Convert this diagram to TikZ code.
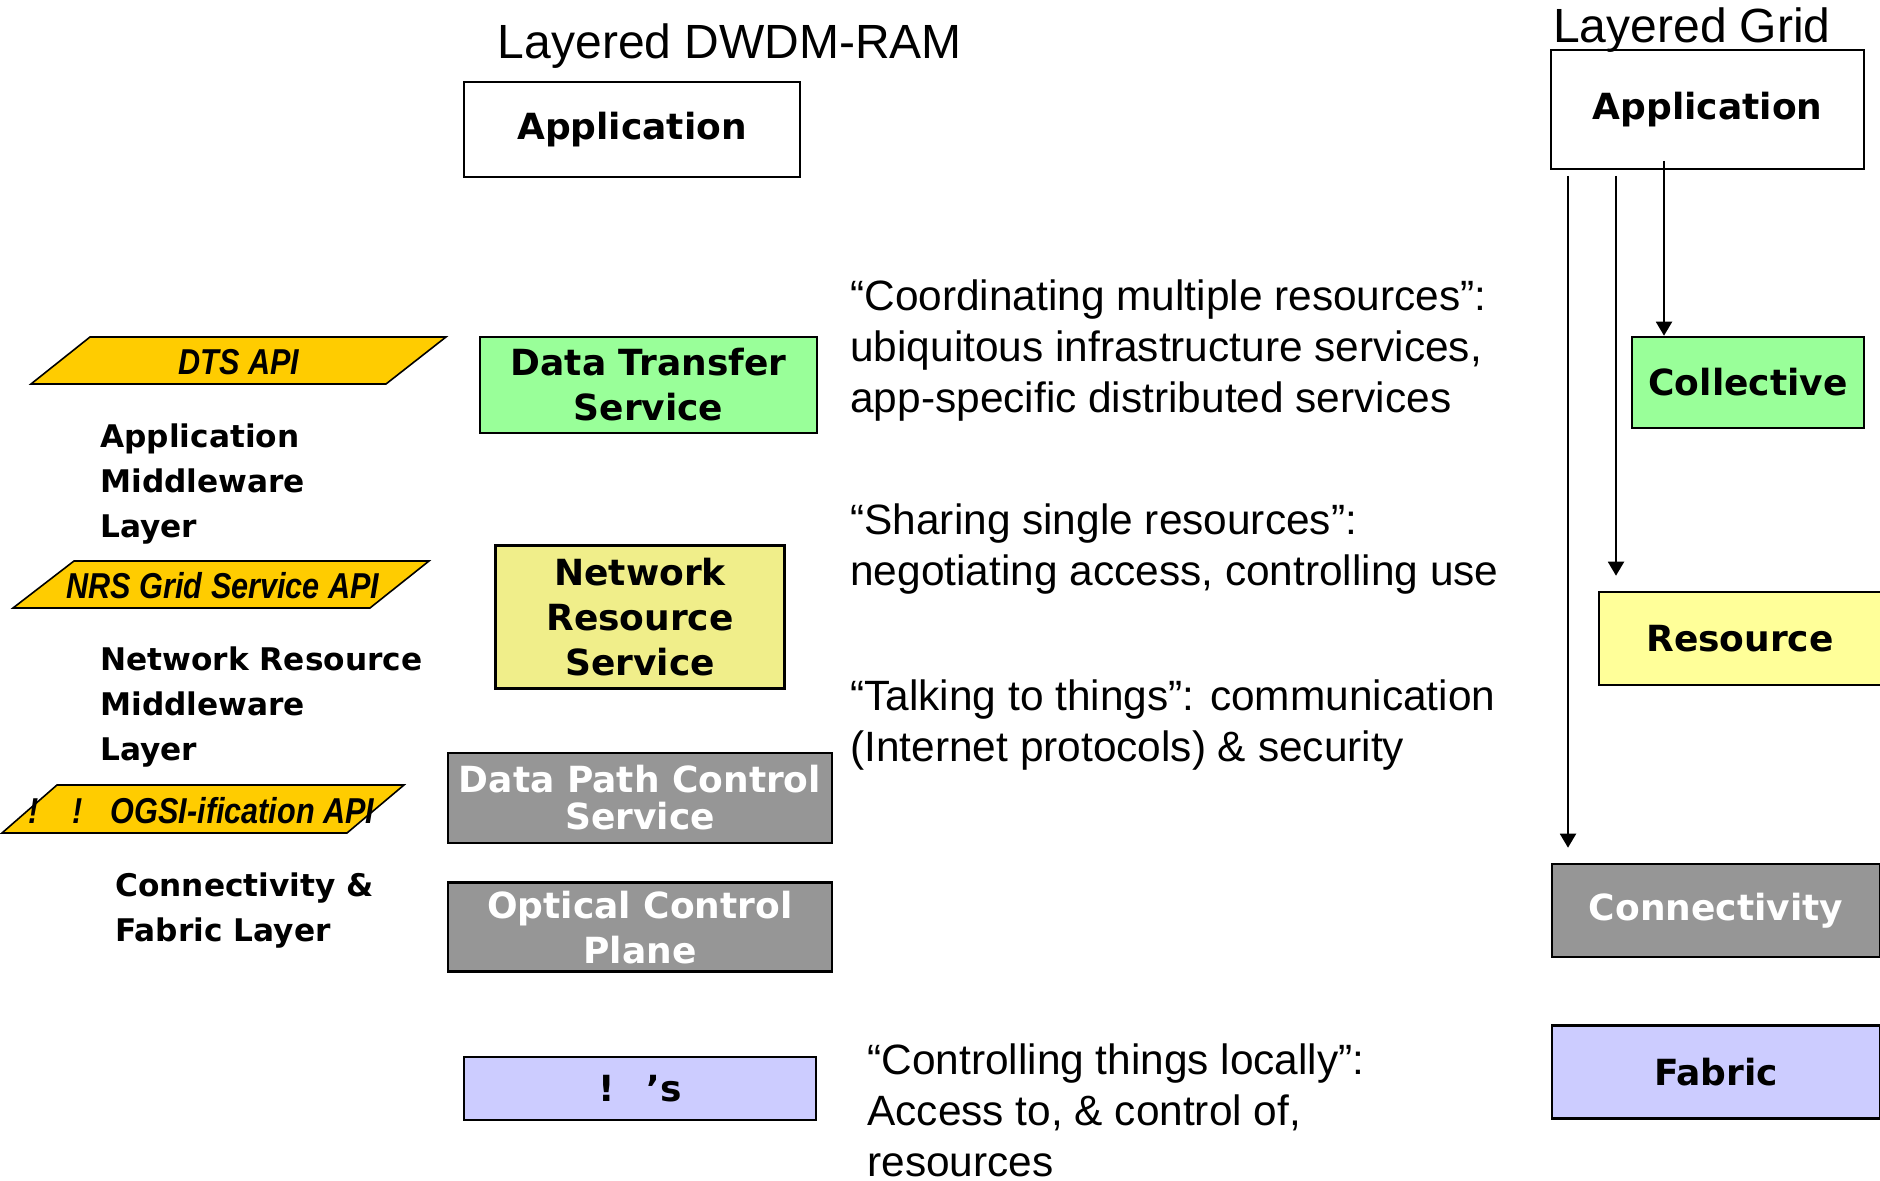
\documentclass[tikz,border=0pt]{standalone}
\usepackage{fontspec}
\setmainfont{Liberation Sans}
\newfontfamily\verdana{DejaVu Sans}
\newfontfamily\apifont[FakeStretch=0.85]{Liberation Sans}
\usepackage{xcolor}
\usepackage{tikz}
\usetikzlibrary{arrows.meta,positioning}

\definecolor{dtsgreen}{HTML}{99FF99}
\definecolor{nrsyellow}{HTML}{F0EE8A}
\definecolor{resyellow}{HTML}{FFFF99}
\definecolor{ctrlgray}{HTML}{969696}
\definecolor{fablilac}{HTML}{CCCCFF}
\definecolor{apigold}{HTML}{FFCC00}

\begin{document}
\begin{tikzpicture}[
  x=0.5pt, y=-0.5pt,
  box/.style={draw, line width=1.3pt, inner sep=0pt, align=center,
              font=\verdana\bfseries\fontsize{18}{22.5}\selectfont},
  dark/.style={box, fill=ctrlgray, text=white},
  api/.style={draw, line width=0.8pt, fill=apigold},
  apitext/.style={font=\apifont\bfseries\itshape\fontsize{18}{20}\selectfont, inner sep=0pt},
  layer/.style={anchor=north west, inner sep=0pt, align=left,
                font=\verdana\bfseries\fontsize{15.6}{22.5}\selectfont},
  note/.style={anchor=north west, inner sep=0pt, align=left,
               font=\fontsize{21.2}{25.5}\selectfont},
  title/.style={anchor=base, inner sep=0pt, font=\fontsize{24}{28}\selectfont},
  arr/.style={-{Triangle[length=7pt,width=8pt]}, line width=1pt}
]
  \useasboundingbox (0,0) rectangle (1880,1181);

  % DWDM-RAM stack
  \node[title] (ttl) at (730,59) {Layered DWDM-RAM};
  \node[box, minimum width=168pt, minimum height=47.5pt] (app) at (632,129.5) {Application};
  \node[box, fill=dtsgreen, minimum width=168.5pt, minimum height=48pt] (dts) at (648.5,385) {Data Transfer\\Service};
  \node[box, fill=nrsyellow, minimum width=144.5pt, minimum height=71.5pt] (nrs) at (640,617) {Network\\Resource\\Service};
  \node[dark, minimum width=192pt, minimum height=45pt,
        font=\verdana\bfseries\fontsize{18}{18.5}\selectfont] (dpcs) at (640,798) {Data Path Control\\Service};
  \node[dark, minimum width=192pt, minimum height=44.5pt, below=18.5pt of dpcs] (ocp) {Optical Control\\Plane};
  \node[box, fill=fablilac, minimum width=176pt, minimum height=31.5pt] (lam) at (640,1088.5) {!\hspace{16pt}’s};

  % APIs and layer names
  \filldraw[api] (31,384) -- (90,337) -- (446,337) -- (386,384) -- cycle;
  \node[apitext, anchor=base] (dtsapi) at (239,375) {DTS API};
  \filldraw[api] (13,608) -- (74,561) -- (429,561) -- (370,608) -- cycle;
  \node[apitext, anchor=base] (nrsapi) at (223,599) {NRS Grid Service API};
  \filldraw[api] (2,833) -- (57,785) -- (404,785) -- (347,833) -- cycle;
  \node[apitext, anchor=base west] (ogsi) at (28,823) {!\hspace{17pt}!\hspace{14pt}OGSI-ification API};

  \node[layer] (aml) at (100,423) {Application\\Middleware\\Layer};
  \node[layer] (nrml) at (100,646) {Network Resource\\Middleware\\Layer};
  \node[layer] (cfl) at (115,872) {Connectivity \&\\Fabric Layer};

  % descriptions
  \node[note] (dcoll) at (850,279) {“Coordinating multiple resources”:\\ubiquitous infrastructure services,\\app-specific distributed services};
  \node[note] (dres) at (850,503) {“Sharing single resources”:\\negotiating access, controlling use};
  \node[note] (dconn) at (850,679) {“Talking to things”: communication\\(Internet protocols) \& security};
  \node[note] (dfab) at (867,1043) {“Controlling things locally”:\\Access to, \& control of,\\resources};

  % Grid stack
  \node[title] (gttl) at (1692,43) {Layered Grid};
  \node[box, minimum width=156.5pt, minimum height=59.5pt] (gapp) at (1707.5,109.5) {Application};
  \node[box, fill=dtsgreen, minimum width=116pt, minimum height=45.5pt] (coll) at (1748,382.5) {Collective};
  \node[box, fill=resyellow, minimum width=141pt, minimum height=46.5pt] (res) at (1740,638.5) {Resource};
  \node[dark, minimum width=164pt, minimum height=46.5pt] (conn) at (1716,910.5) {Connectivity};
  \node[box, fill=fablilac, minimum width=164pt, minimum height=46.5pt, below=33pt of conn] (fab) {Fabric};

  \coordinate (t1) at (1568,176);
  \coordinate (t2) at (1616,176);
  \coordinate (t3) at (1664,161);
  \draw[arr, shorten >=7.5pt] (t1) -- (t1 |- conn.north);
  \draw[arr, shorten >=7.5pt] (t2) -- (t2 |- res.north);
  \draw[arr] (t3) -- (t3 |- coll.north);
\end{tikzpicture}
\end{document}
